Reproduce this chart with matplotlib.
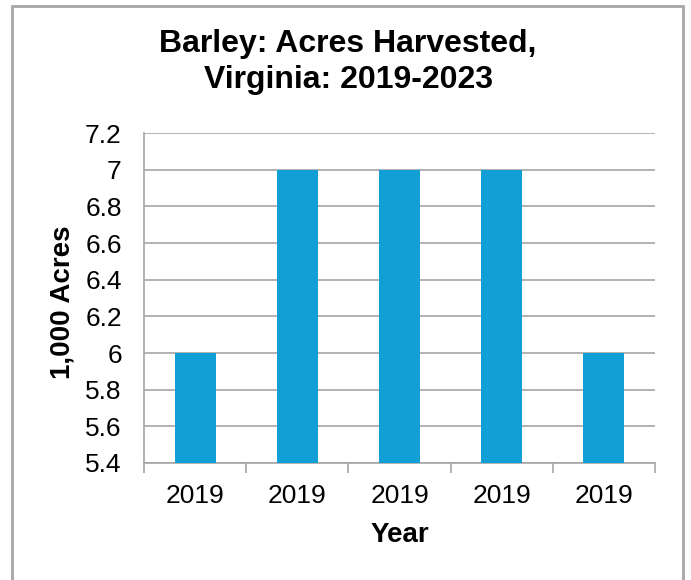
import matplotlib.pyplot as plt
from matplotlib.patches import Rectangle

plt.rcParams['font.family'] = ['Liberation Sans', 'DejaVu Sans']

# values
years = ['2019', '2019', '2019', '2019', '2019']
acres = [6, 7, 7, 7, 6]
yticks = [5.4, 5.6, 5.8, 6, 6.2, 6.4, 6.6, 6.8, 7, 7.2]
ytick_labels = ['5.4', '5.6', '5.8', '6', '6.2', '6.4', '6.6', '6.8', '7', '7.2']

W, H = 691, 580
fig = plt.figure(figsize=(W / 100, H / 100), dpi=100)

# outer chart border (bottom edge is off the image)
fig.patches.append(Rectangle((12 / W, -0.05), (683 - 12) / W, (H - 6) / H + 0.05,
                             transform=fig.transFigure, fill=False,
                             edgecolor='#a6a6a6', linewidth=2))

# plot area: x 144..655, y 133..463 px
ax = fig.add_axes([144 / W, 1 - 463 / H, (655 - 144) / W, (463 - 133) / H])

x = range(len(years))
ax.bar(x, acres, width=0.4, color='#119fd6', zorder=3)

ax.set_xlim(-0.5, len(years) - 0.5)
ax.set_ylim(5.4, 7.2)
ax.set_yticks(yticks)
ax.set_yticklabels(ytick_labels)
ax.set_xticks(list(x))
ax.set_xticklabels(years)
ax.set_xticks([i - 0.5 for i in range(len(years) + 1)], minor=True)

ax.grid(axis='y', color='#a6a6a6', linewidth=1.2, zorder=0)
ax.tick_params(axis='y', length=0, labelsize=19, pad=16)
ax.tick_params(axis='x', which='major', length=0, labelsize=19, pad=15)
ax.tick_params(axis='x', which='minor', length=7, color='#a6a6a6', width=1.2)

for s in ['top', 'right']:
    ax.spines[s].set_visible(False)
ax.spines['left'].set_color('#a6a6a6')
ax.spines['bottom'].set_color('#a6a6a6')
ax.spines['left'].set_linewidth(1.2)
ax.spines['bottom'].set_linewidth(1.2)

ax.set_xlabel('Year', fontsize=20, fontweight='bold')
ax.set_ylabel('1,000 Acres', fontsize=20, fontweight='bold')
ax.xaxis.set_label_coords(0.501, -0.218)
ax.yaxis.set_label_coords(-0.160, 0.488)
ax.xaxis.label.set_va('center')
ax.yaxis.label.set_va('center')

fig.text(348 / W, 1 - 62 / H, 'Barley: Acres Harvested,\nVirginia: 2019-2023',
         ha='center', va='center', fontsize=23, fontweight='bold', linespacing=1.3)

fig.savefig('out.png', dpi=100)
